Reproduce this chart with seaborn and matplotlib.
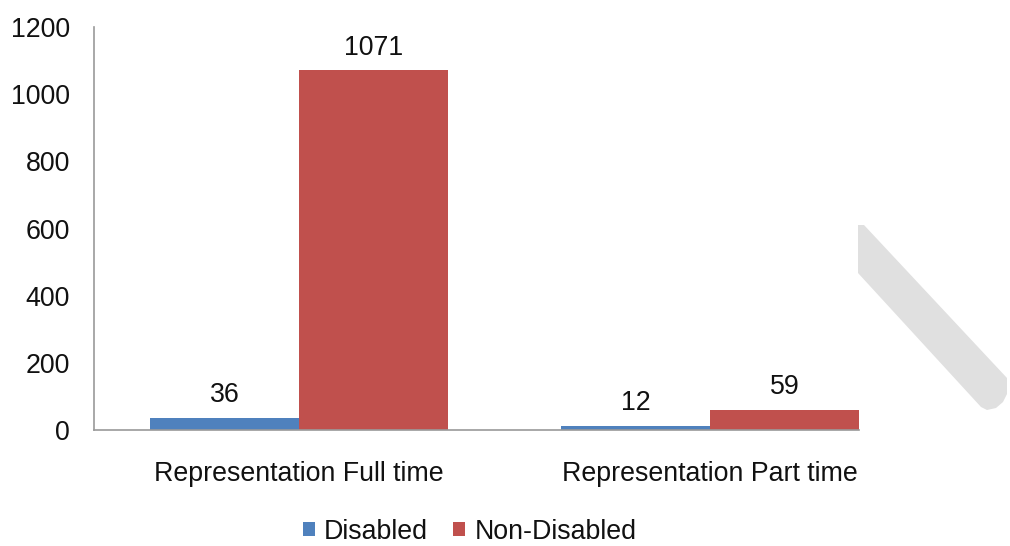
import matplotlib
matplotlib.use("Agg")
import matplotlib.pyplot as plt
from matplotlib.patches import Polygon
import pandas as pd
import seaborn as sns

categories = ["Representation Full time", "Representation Part time"]
groups = ["Disabled", "Non-Disabled"]
disabled = [36, 12]
non_disabled = [1071, 59]
y_ticks = [0, 200, 400, 600, 800, 1000, 1200]

df = pd.DataFrame({
    "category": categories * 2,
    "group": [groups[0]] * len(categories) + [groups[1]] * len(categories),
    "value": disabled + non_disabled,
})

sns.set_theme(style="white")
plt.rcParams["font.family"] = ["Liberation Sans", "DejaVu Sans"]

FS = 19.3
fig = plt.figure(figsize=(10.10, 5.46), dpi=100)
ax = fig.add_axes([0.0926, 0.2125, 0.8139, 0.738])

palette = {"Disabled": "#4F81BD", "Non-Disabled": "#C0504D"}
sns.barplot(data=df, x="category", y="value", hue="group", order=categories,
            hue_order=groups, palette=palette, width=0.725, gap=0,
            saturation=1, ax=ax, legend=True, linewidth=0)

for container in ax.containers:
    ax.bar_label(container, fmt="%d", padding=7, fontsize=FS, color="#111111")

ax.set_xlim(-0.5, 1.5)
ax.set_ylim(0, 1200)
ax.set_yticks(y_ticks)
ax.set_xlabel("")
ax.set_ylabel("")
ax.tick_params(axis="y", length=0, pad=17, labelsize=FS, labelcolor="#111111")
ax.tick_params(axis="x", length=0, pad=22, labelsize=FS, labelcolor="#111111")

for side in ["top", "right"]:
    ax.spines[side].set_visible(False)
for side in ["left", "bottom"]:
    ax.spines[side].set_color("#9a9a9a")
    ax.spines[side].set_linewidth(1.2)
ax.spines["bottom"].set_bounds(-0.5, 1.362)

handles, labels = ax.get_legend_handles_labels()
ax.get_legend().remove()
fig.legend(handles, labels, loc="center", bbox_to_anchor=(0.465, 0.026),
           ncol=2, frameon=False, fontsize=FS, handlelength=0.45,
           handleheight=0.45, handletextpad=0.33, columnspacing=0.95,
           borderpad=0, labelcolor="#111111")

# light diagonal band on the right margin
W, H = 1010, 546
band = [(858, 225), (864, 225), (1007, 378), (1007, 394), (1003, 402),
        (996, 408), (987, 410), (981, 407), (858, 273)]
fig.patches.append(Polygon([(x / W, 1 - y / H) for x, y in band], closed=True,
                           transform=fig.transFigure, facecolor="#e0e0e0",
                           edgecolor="none"))

fig.savefig("out.png", dpi=100)
